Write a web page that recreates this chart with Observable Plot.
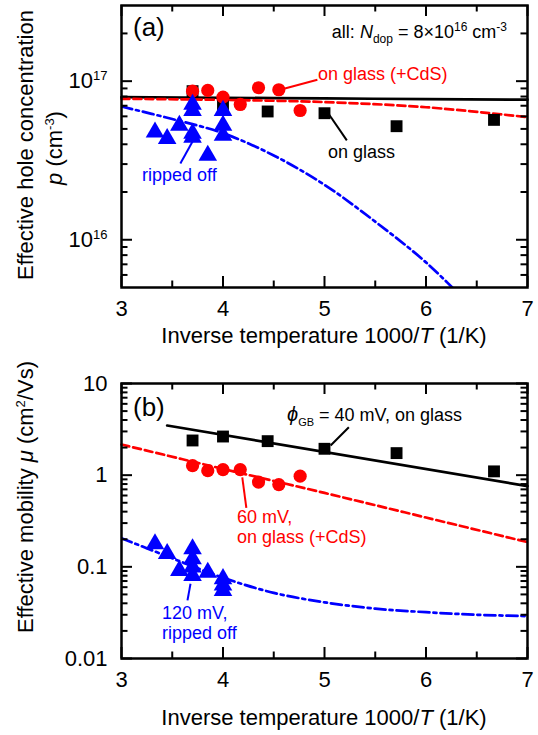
<!DOCTYPE html>
<html><head><meta charset="utf-8">
<script src="https://cdn.jsdelivr.net/npm/d3@7"></script>
<script src="https://cdn.jsdelivr.net/npm/@observablehq/plot@0.6"></script>
<style>
body{margin:0;background:#fff;}
#chart{width:538px;}
#chart svg{display:block;}
</style></head><body><div id="chart"></div>
<script>
// ---------- data ----------
// inverse temperature 1000/T (1/K)
const invT_glass = [3.70, 4.00, 4.44, 5.00, 5.71, 6.67];
const invT_cds   = [3.70, 3.85, 4.00, 4.17, 4.35, 4.55, 4.76];
const invT_rip   = [3.33, 3.45, 3.57, 3.70, 3.70, 3.70, 3.70, 3.85, 4.00, 4.00, 4.00];
// (a) effective hole concentration p (cm^-3)
const p_glass = [8.65e16, 7.0e16, 6.44e16, 6.28e16, 5.2e16, 5.7e16];
const p_cds   = [8.65e16, 8.74e16, 7.93e16, 7.13e16, 9.09e16, 8.83e16, 6.53e16];
const p_rip   = [4.77e16, 4.34e16, 5.26e16, 7.13e16, 6.53e16, 4.68e16, 4.42e16, 3.4e16, 6.53e16, 5.26e16, 4.55e16];
// (b) effective mobility mu (cm^2/Vs)
const mu_glass = [2.39, 2.64, 2.35, 1.94, 1.74, 1.10];
const mu_cds   = [1.27, 1.12, 1.15, 1.15, 0.84, 0.79, 0.975];
const mu_rip   = [0.178, 0.139, 0.091, 0.157, 0.122, 0.099, 0.080, 0.087, 0.074, 0.063, 0.055];
// model curves
const fitT       = [3, 4, 5, 6, 7];
const pFit_glass = [7.93e16, 7.86e16, 7.78e16, 7.71e16, 7.64e16];
const pFit_cds   = [7.74e16, 7.62e16, 7.38e16, 6.85e16, 5.93e16];
const fitT_rip   = [3, 3.5, 4, 4.5, 5, 5.5, 6, 6.5];
const pFit_rip   = [6.92e16, 5.77e16, 4.7e16, 3.4e16, 2.22e16, 1.3e16, 7.2e15, 3.5e15];
const fitT_muGlass = [3.45, 7];
const muFit_glass  = [3.48, 0.76];
const muFit_cds    = [2.16, 1.17, 0.64, 0.345, 0.186];
const fitT_muRip   = [3, 3.5, 4, 4.5, 5, 5.5, 6, 6.5, 7];
const muFit_rip    = [0.205, 0.124, 0.076, 0.052, 0.041, 0.035, 0.032, 0.030, 0.029];
// ticks
const xMajor = [3, 4, 5, 6, 7];
const xMinor = [3.5, 4.5, 5.5, 6.5];
const pDomain = [5e15, 3e17];
const pMajor = [1e16, 1e17];
const muDomain = [0.01, 10];
const muMajor = [0.01, 0.1, 1, 10];
const muLabels = ["0.01", "0.1", "1", "10"];
// annotation leader lines (data coordinates)
const leadA = [
  {x1: 4.60, y1: 8.96e16, x2: 4.93, y2: 1.02e17, c: "red"},
  {x1: 5.04, y1: 6.23e16, x2: 5.22, y2: 4.23e16, c: "black"},
  {x1: 3.70, y1: 4.17e16, x2: 3.58, y2: 3.03e16, c: "blue"}
];
const leadB = [
  {x1: 5.06, y1: 2.11, x2: 5.24, y2: 3.33, c: "black"},
  {x1: 4.19, y1: 0.944, x2: 4.23, y2: 0.44, c: "red"},
  {x1: 3.68, y1: 0.0653, x2: 3.65, y2: 0.043, c: "blue"}
];

// ---------- helpers ----------
const FONT = "'Liberation Sans', Arial, Helvetica, sans-serif";
const W = 538, ML = 121, MR = 11;
const zip = (xs, ys) => xs.map((x, i) => ({x, y: ys[i]}));
function minorLog([lo, hi]) {
  const out = [];
  for (let e = Math.floor(Math.log10(lo)); e <= Math.ceil(Math.log10(hi)); e++)
    for (let k = 2; k <= 9; k++) { const v = k * Math.pow(10, e); if (v > lo * 1.0001 && v < hi * 0.9999) out.push(v); }
  return out;
}
function frameTicks(yMaj, yMin, plotW, plotH) {
  const tk = {stroke: "black", strokeWidth: 2};
  const maj = 11, min = 6.5;
  return [
    Plot.tickX(xMajor, {x: d => d, insetTop: plotH - maj, ...tk}),
    Plot.tickX(xMajor, {x: d => d, insetBottom: plotH - maj, ...tk}),
    Plot.tickX(xMinor, {x: d => d, insetTop: plotH - min, ...tk}),
    Plot.tickX(xMinor, {x: d => d, insetBottom: plotH - min, ...tk}),
    Plot.tickY(yMaj, {y: d => d, insetRight: plotW - maj, ...tk}),
    Plot.tickY(yMaj, {y: d => d, insetLeft: plotW - maj, ...tk}),
    Plot.tickY(yMin, {y: d => d, insetRight: plotW - min, ...tk}),
    Plot.tickY(yMin, {y: d => d, insetLeft: plotW - min, ...tk})
  ];
}
// rich text: parts [{t, shift(px up), size, italic}]
function rich(svg, x, y, parts, {anchor = "start", size = 18, fill = "black", rotate = 0} = {}) {
  const t = d3.select(svg).append("text")
    .attr("transform", `translate(${x},${y}) rotate(${rotate})`)
    .attr("text-anchor", anchor).attr("font-family", FONT)
    .attr("font-size", size).attr("fill", fill);
  let cur = 0;
  for (const p of parts) {
    const sh = p.shift || 0;
    const ts = t.append("tspan").text(p.t);
    if (sh !== cur) ts.attr("dy", -(sh - cur));
    if (p.size) ts.attr("font-size", p.size);
    if (p.italic) ts.attr("font-style", "italic");
    cur = sh;
  }
  return t;
}
function supLabels(svg) {
  d3.select(svg).selectAll('g[aria-label="y-axis tick label"] text').each(function () {
    const s = this.textContent;
    if (s.includes("|")) {
      const [b, e] = s.split("|");
      const t = d3.select(this); t.text(null);
      t.append("tspan").text(b);
      t.append("tspan").attr("dy", -8).attr("font-size", "13px").text(e);
    }
  });
}
const styleBase = {fontFamily: FONT, fontSize: "22px", color: "black", background: "white", overflow: "visible"};
const LW = 2.7;

// ---------- panel (a) ----------
const HA = 350, MTA = 5, MBA = 63;
const chartA = Plot.plot({
  width: W, height: HA, marginLeft: ML, marginRight: MR, marginTop: MTA, marginBottom: MBA,
  x: {domain: [3, 7]},
  y: {type: "log", domain: pDomain},
  style: styleBase,
  marks: [
    Plot.line(zip(fitT, pFit_glass), {x: "x", y: "y", stroke: "black", strokeWidth: LW, curve: "catmull-rom"}),
    Plot.line(zip(fitT, pFit_cds), {x: "x", y: "y", stroke: "red", strokeWidth: LW, strokeDasharray: "8,4", curve: "catmull-rom"}),
    Plot.line(zip(fitT_rip, pFit_rip), {x: "x", y: "y", stroke: "blue", strokeWidth: LW, strokeDasharray: "11,4,3,4", curve: "catmull-rom", clip: true}),
    Plot.dot(zip(invT_glass, p_glass), {x: "x", y: "y", symbol: "square", r: 6.7, fill: "black"}),
    Plot.dot(zip(invT_cds, p_cds), {x: "x", y: "y", symbol: "circle", r: 6.6, fill: "red"}),
    Plot.dot(zip(invT_rip, p_rip), {x: "x", y: "y", symbol: "triangle", r: 6.9, fill: "blue"}),
    Plot.link(leadA, {x1: "x1", y1: "y1", x2: "x2", y2: "y2", stroke: "c", strokeWidth: 2}),
    Plot.frame({stroke: "black", strokeWidth: 2.5}),
    ...frameTicks(pMajor, minorLog(pDomain), W - ML - MR, HA - MTA - MBA),
    Plot.axisX(xMajor, {tickSize: 0, tickPadding: 13, label: null, fontSize: 22}),
    Plot.axisY(pMajor, {tickSize: 0, tickPadding: 14, label: null, fontSize: 22,
      tickFormat: d => "10|" + Math.round(Math.log10(d))})
  ]
});
supLabels(chartA);
rich(chartA, 133, 36, [{t: "(a)"}], {size: 26});
rich(chartA, 507, 38, [
  {t: "all: "}, {t: "N", italic: true}, {t: "dop", shift: -5, size: 12},
  {t: " = 8×10"}, {t: "16", shift: 7, size: 12}, {t: " cm"}, {t: "-3", shift: 7, size: 12}
], {anchor: "end", size: 18});
rich(chartA, 318, 80, [{t: "on glass (+CdS)"}], {size: 18, fill: "red"});
rich(chartA, 328, 158, [{t: "on glass"}], {size: 18});
rich(chartA, 142, 181, [{t: "ripped off"}], {size: 18, fill: "blue"});
rich(chartA, 33, 145, [{t: "Effective hole concentration"}], {anchor: "middle", size: 22, rotate: -90});
rich(chartA, 62, 148, [{t: "p", italic: true}, {t: " (cm"}, {t: "-3", shift: 8, size: 13}, {t: ")"}], {anchor: "middle", size: 22, rotate: -90});
rich(chartA, 324, 343, [{t: "Inverse temperature 1000/"}, {t: "T", italic: true}, {t: " (1/K)"}], {anchor: "middle", size: 22});

// ---------- panel (b) ----------
const TOPB = HA;
const HB = 735 - HA, MTB = 383 - TOPB, MBB = HB - (658 - TOPB);
const muLab = new Map(muMajor.map((v, i) => [v, muLabels[i]]));
const chartB = Plot.plot({
  width: W, height: HB, marginLeft: ML, marginRight: MR, marginTop: MTB, marginBottom: MBB,
  x: {domain: [3, 7]},
  y: {type: "log", domain: muDomain},
  style: styleBase,
  marks: [
    Plot.line(zip(fitT_muGlass, muFit_glass), {x: "x", y: "y", stroke: "black", strokeWidth: LW}),
    Plot.line(zip(fitT, muFit_cds), {x: "x", y: "y", stroke: "red", strokeWidth: LW, strokeDasharray: "8,4", curve: "catmull-rom"}),
    Plot.line(zip(fitT_muRip, muFit_rip), {x: "x", y: "y", stroke: "blue", strokeWidth: LW, strokeDasharray: "11,4,3,4", curve: "catmull-rom", clip: true}),
    Plot.dot(zip(invT_glass, mu_glass), {x: "x", y: "y", symbol: "square", r: 6.7, fill: "black"}),
    Plot.dot(zip(invT_cds, mu_cds), {x: "x", y: "y", symbol: "circle", r: 6.6, fill: "red"}),
    Plot.dot(zip(invT_rip, mu_rip), {x: "x", y: "y", symbol: "triangle", r: 6.9, fill: "blue"}),
    Plot.link(leadB, {x1: "x1", y1: "y1", x2: "x2", y2: "y2", stroke: "c", strokeWidth: 2}),
    Plot.frame({stroke: "black", strokeWidth: 2.5}),
    ...frameTicks(muMajor, minorLog(muDomain), W - ML - MR, HB - MTB - MBB),
    Plot.axisX(xMajor, {tickSize: 0, tickPadding: 13, label: null, fontSize: 22}),
    Plot.axisY(muMajor, {tickSize: 0, tickPadding: 14, label: null, fontSize: 22, tickFormat: d => muLab.get(d)})
  ]
});
const by = v => v - TOPB;
rich(chartB, 133, by(416), [{t: "(b)"}], {size: 26});
rich(chartB, 287, by(421), [
  {t: "ϕ", italic: true, size: 20}, {t: "GB", shift: -5, size: 11}, {t: " = 40 mV, on glass"}
], {size: 18});
rich(chartB, 237, by(523), [{t: "60 mV,"}], {size: 18, fill: "red"});
rich(chartB, 237, by(543), [{t: "on glass (+CdS)"}], {size: 18, fill: "red"});
rich(chartB, 162, by(619), [{t: "120 mV,"}], {size: 18, fill: "blue"});
rich(chartB, 162, by(639), [{t: "ripped off"}], {size: 18, fill: "blue"});
rich(chartB, 33, by(497), [
  {t: "Effective mobility "}, {t: "μ", italic: true}, {t: " (cm"}, {t: "2", shift: 8, size: 13}, {t: "/Vs)"}
], {anchor: "middle", size: 22, rotate: -90});
rich(chartB, 324, by(725), [{t: "Inverse temperature 1000/"}, {t: "T", italic: true}, {t: " (1/K)"}], {anchor: "middle", size: 22});

document.getElementById("chart").append(chartA, chartB);
</script>
</body></html>
